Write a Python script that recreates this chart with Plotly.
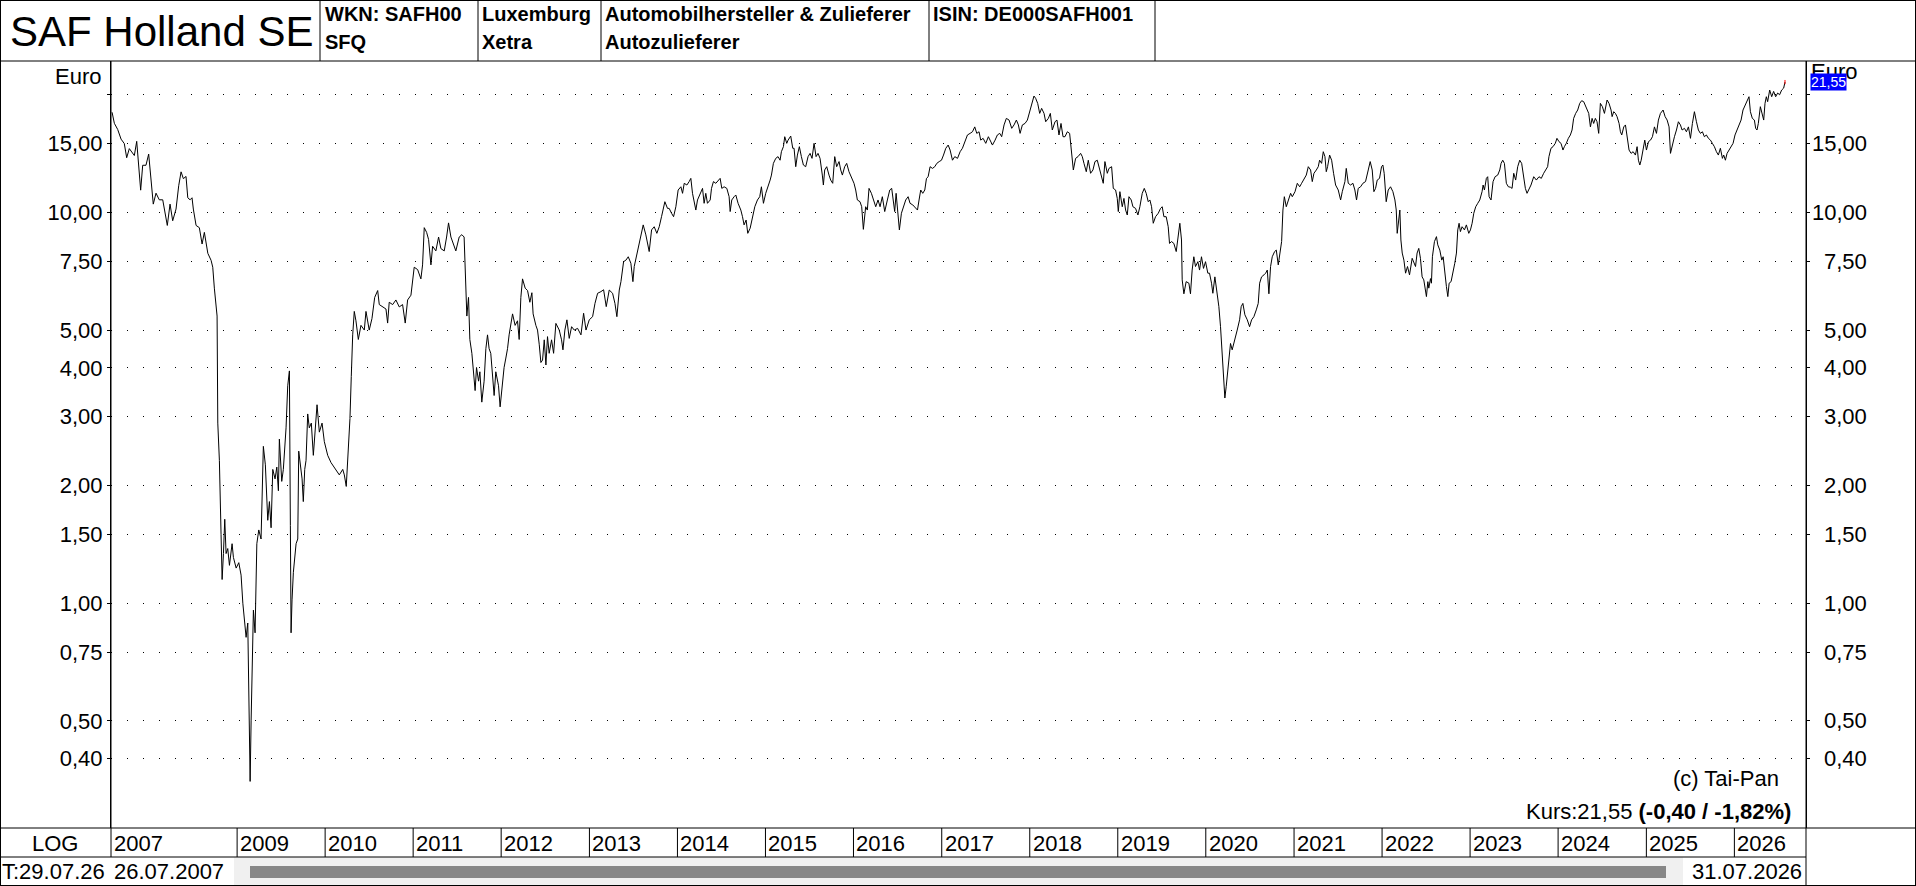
import math
from datetime import datetime
import plotly.graph_objects as go

# price path, time as decimal years
t_0712 = [2007.582, 2007.608, 2007.646, 2007.684, 2007.721, 2007.748, 2007.778, 2007.835, 2007.862, 2007.885,
          2007.907, 2007.930, 2007.967, 2007.998, 2008.024, 2008.050, 2008.081, 2008.118, 2008.157, 2008.186,
          2008.209, 2008.240, 2008.270, 2008.308, 2008.338, 2008.365, 2008.391, 2008.421, 2008.441, 2008.467,
          2008.489, 2008.504, 2008.535, 2008.572, 2008.603, 2008.629, 2008.668, 2008.705, 2008.724, 2008.742,
          2008.762, 2008.773, 2008.781, 2008.799, 2008.818, 2008.830, 2008.845, 2008.860, 2008.875, 2008.894,
          2008.913, 2008.943, 2008.958, 2008.989, 2009.019, 2009.045, 2009.065, 2009.083, 2009.102, 2009.121,
          2009.133, 2009.148, 2009.159, 2009.170, 2009.185, 2009.204, 2009.224, 2009.246, 2009.272, 2009.284,
          2009.298, 2009.321, 2009.348, 2009.367, 2009.386, 2009.405, 2009.431, 2009.451, 2009.469, 2009.480,
          2009.507, 2009.525, 2009.556, 2009.575, 2009.594, 2009.605, 2009.613, 2009.624, 2009.639, 2009.670,
          2009.689, 2009.700, 2009.715, 2009.738, 2009.752, 2009.768, 2009.783, 2009.802, 2009.820, 2009.843,
          2009.866, 2009.889, 2009.908, 2009.934, 2009.965, 2009.991, 2010.029, 2010.067, 2010.116, 2010.161,
          2010.200, 2010.218, 2010.240, 2010.260, 2010.282, 2010.297, 2010.313, 2010.331, 2010.350, 2010.377,
          2010.407, 2010.445, 2010.464, 2010.501, 2010.532, 2010.563, 2010.597, 2010.615, 2010.653, 2010.691,
          2010.710, 2010.728, 2010.767, 2010.804, 2010.842, 2010.880, 2010.910, 2010.937, 2010.975, 2010.994,
          2011.012, 2011.051, 2011.088, 2011.107, 2011.126, 2011.153, 2011.175, 2011.202, 2011.221, 2011.258,
          2011.289, 2011.315, 2011.353, 2011.380, 2011.402, 2011.429, 2011.448, 2011.485, 2011.523, 2011.553,
          2011.579, 2011.591, 2011.610, 2011.629, 2011.644, 2011.667, 2011.686, 2011.704, 2011.720, 2011.743,
          2011.758, 2011.780, 2011.806, 2011.826, 2011.845, 2011.863, 2011.882, 2011.902, 2011.920, 2011.939,
          2011.970, 2011.988, 2012.015, 2012.033, 2012.053, 2012.072, 2012.090, 2012.109, 2012.129, 2012.158,
          2012.185, 2012.204, 2012.223, 2012.242, 2012.272, 2012.299, 2012.325, 2012.348, 2012.362, 2012.393,
          2012.412, 2012.431, 2012.450]
p_0712 = [18.04, 16.9, 16.3, 15.4, 15.0, 13.8, 14.56, 13.98, 15.2, 12.7,
          11.4, 13.2, 13.2, 14.1, 12.36, 10.5, 11.2, 10.77, 10.77, 9.93,
          9.26, 10.5, 9.52, 10.2, 11.7, 12.7, 12.2, 12.36, 10.9, 10.77,
          10.9, 10.2, 9.26, 9.14, 8.30, 8.89, 7.86, 7.54, 7.24, 6.40,
          5.89, 5.43, 2.89, 2.32, 1.50, 1.15, 1.34, 1.64, 1.34, 1.38,
          1.25, 1.42, 1.31, 1.23, 1.27, 1.18, 1.00, 0.89, 0.818, 0.89,
          0.56, 0.35, 0.50, 0.71, 0.96, 0.84, 1.42, 1.54, 1.46, 1.87,
          2.52, 2.26, 1.63, 1.82, 1.56, 2.20, 2.08, 2.23, 1.94, 2.63,
          2.05, 2.20, 2.81, 3.60, 3.93, 1.58, 0.84, 1.02, 1.20, 1.42,
          1.46, 2.45, 2.26, 2.08, 1.82, 2.20, 2.32, 3.05, 2.81, 2.89,
          2.39, 2.89, 3.22, 2.74, 2.89, 2.59, 2.39, 2.29, 2.20, 2.13,
          2.20, 2.13, 1.99, 2.45, 2.97, 3.80, 4.86, 5.58, 5.28, 4.73,
          5.14, 5.00, 5.58, 5.00, 5.35, 6.06, 6.31, 5.81, 5.73, 5.66,
          5.21, 5.89, 5.81, 5.97, 5.73, 5.81, 5.21, 5.97, 6.14, 6.58,
          7.24, 7.14, 6.76, 7.34, 9.14, 8.89, 8.53, 7.34, 8.19, 7.97,
          8.65, 8.08, 7.97, 8.65, 9.40, 8.65, 8.41, 7.97, 8.65, 8.77,
          8.65, 6.76, 5.43, 6.06, 4.73, 4.36, 3.91, 3.50, 4.01, 3.70,
          3.91, 3.27, 3.70, 4.48, 4.86, 4.48, 4.36, 3.80, 3.40, 3.91,
          3.60, 3.18, 3.70, 4.01, 4.24, 4.48, 4.86, 5.14, 5.50, 5.14,
          5.28, 4.73, 6.06, 6.76, 6.40, 6.31, 5.89, 6.23, 5.50, 5.14,
          5.00, 4.60, 4.13]

t_1217 = [2012.469, 2012.488, 2012.507, 2012.525, 2012.544, 2012.571, 2012.594, 2012.620, 2012.658, 2012.684,
          2012.700, 2012.722, 2012.745, 2012.771, 2012.798, 2012.828, 2012.866, 2012.904, 2012.934, 2012.961,
          2012.998, 2013.036, 2013.063, 2013.093, 2013.131, 2013.161, 2013.191, 2013.225, 2013.263, 2013.290,
          2013.312, 2013.339, 2013.358, 2013.388, 2013.415, 2013.441, 2013.471, 2013.494, 2013.509, 2013.547,
          2013.577, 2013.611, 2013.641, 2013.660, 2013.679, 2013.706, 2013.736, 2013.766, 2013.793, 2013.819,
          2013.857, 2013.887, 2013.906, 2013.933, 2013.956, 2013.982, 2014.008, 2014.039, 2014.058, 2014.077,
          2014.107, 2014.133, 2014.152, 2014.171, 2014.190, 2014.209, 2014.228, 2014.258, 2014.285, 2014.303,
          2014.322, 2014.341, 2014.372, 2014.387, 2014.409, 2014.436, 2014.462, 2014.485, 2014.504, 2014.530,
          2014.561, 2014.587, 2014.599, 2014.617, 2014.644, 2014.663, 2014.689, 2014.720, 2014.739, 2014.757,
          2014.780, 2014.799, 2014.826, 2014.852, 2014.879, 2014.909, 2014.935, 2014.954, 2014.977, 2015.003,
          2015.030, 2015.053, 2015.068, 2015.090, 2015.117, 2015.143, 2015.166, 2015.181, 2015.204, 2015.219,
          2015.242, 2015.257, 2015.287, 2015.310, 2015.325, 2015.344, 2015.363, 2015.385, 2015.408, 2015.431,
          2015.457, 2015.484, 2015.507, 2015.529, 2015.552, 2015.575, 2015.597, 2015.620, 2015.646, 2015.658,
          2015.673, 2015.696, 2015.722, 2015.741, 2015.764, 2015.787, 2015.809, 2015.836, 2015.855, 2015.874,
          2015.900, 2015.923, 2015.949, 2015.976, 2016.006, 2016.025, 2016.044, 2016.074, 2016.093, 2016.112,
          2016.138, 2016.157, 2016.176, 2016.203, 2016.225, 2016.252, 2016.278, 2016.301, 2016.327, 2016.354,
          2016.384, 2016.411, 2016.433, 2016.452, 2016.467, 2016.483, 2016.505, 2016.520, 2016.543, 2016.566,
          2016.592, 2016.619, 2016.641, 2016.672, 2016.694, 2016.725, 2016.743, 2016.762, 2016.785, 2016.808,
          2016.827, 2016.846, 2016.868, 2016.895, 2016.921, 2016.944, 2016.971, 2016.997, 2017.020, 2017.046,
          2017.073, 2017.095, 2017.122, 2017.148, 2017.179, 2017.209, 2017.235, 2017.262, 2017.292, 2017.322,
          2017.349, 2017.375, 2017.398, 2017.424]
p_1217 = [4.19, 4.72, 4.07, 4.81, 4.36, 4.72, 4.36, 5.20, 5.00, 4.72,
          4.45, 5.00, 5.31, 4.76, 5.10, 5.00, 5.05, 4.86, 5.52, 5.00,
          5.31, 5.41, 5.85, 6.21, 6.27, 6.34, 5.74, 6.33, 6.21, 5.85,
          5.41, 6.33, 6.65, 7.48, 7.55, 7.70, 7.41, 6.65, 7.27, 8.01,
          8.50, 9.29, 8.76, 8.33, 7.94, 9.02, 9.19, 8.84, 9.19, 9.75,
          10.65, 10.24, 10.24, 9.95, 9.75, 10.34, 11.41, 11.63, 11.19, 11.87,
          11.75, 11.99, 12.22, 11.19, 10.55, 10.14, 10.76, 11.19, 11.52, 10.55,
          11.19, 10.55, 10.76, 11.52, 11.99, 11.87, 12.10, 12.22, 11.52, 11.63,
          11.52, 10.97, 10.05, 10.76, 10.97, 11.08, 10.55, 10.14, 9.75, 9.29,
          9.56, 8.84, 9.11, 9.75, 10.34, 10.76, 10.97, 11.63, 10.55, 11.19,
          11.63, 12.10, 12.46, 13.35, 13.75, 13.89, 13.6, 14.30, 14.73, 15.62,
          15.02, 15.31, 15.68, 14.59, 14.59, 13.09, 14.02, 14.73, 13.89, 13.22,
          13.09, 13.89, 14.16, 13.75, 15.02, 13.89, 14.16, 13.75, 12.46, 11.75,
          12.84, 13.09, 12.46, 12.10, 11.87, 13.89, 13.09, 13.49, 12.84, 12.46,
          13.09, 13.35, 12.71, 12.34, 11.87, 11.41, 10.76, 10.65, 10.34, 9.05,
          10.34, 10.14, 11.52, 11.19, 10.76, 10.34, 10.76, 10.34, 10.97, 10.05,
          10.76, 11.41, 11.52, 10.76, 10.05, 11.19, 9.75, 9.02, 9.95, 10.34,
          10.76, 10.97, 10.55, 10.45, 10.34, 10.14, 10.76, 11.41, 11.19, 11.41,
          12.22, 12.34, 13.09, 12.96, 13.09, 13.35, 13.49, 13.6, 14.02, 14.59,
          14.87, 14.44, 13.6, 13.89, 13.75, 14.30, 14.59, 15.17, 15.78, 15.93,
          16.08, 16.55, 15.93, 16.08]

t_1722 = [2017.443, 2017.470, 2017.500, 2017.530, 2017.557, 2017.576, 2017.606, 2017.632, 2017.659, 2017.681,
          2017.708, 2017.734, 2017.765, 2017.795, 2017.821, 2017.848, 2017.871, 2017.890, 2017.916, 2017.946,
          2017.973, 2017.999, 2018.022, 2018.048, 2018.067, 2018.090, 2018.113, 2018.135, 2018.162, 2018.181,
          2018.211, 2018.234, 2018.256, 2018.287, 2018.309, 2018.332, 2018.355, 2018.378, 2018.400, 2018.427,
          2018.453, 2018.476, 2018.495, 2018.521, 2018.548, 2018.578, 2018.597, 2018.616, 2018.642, 2018.665,
          2018.691, 2018.718, 2018.741, 2018.767, 2018.794, 2018.816, 2018.835, 2018.854, 2018.881, 2018.900,
          2018.930, 2018.949, 2018.975, 2018.994, 2019.006, 2019.024, 2019.051, 2019.070, 2019.089, 2019.108,
          2019.127, 2019.153, 2019.172, 2019.202, 2019.229, 2019.251, 2019.278, 2019.301, 2019.323, 2019.346,
          2019.365, 2019.384, 2019.403, 2019.429, 2019.460, 2019.486, 2019.505, 2019.524, 2019.550, 2019.573,
          2019.588, 2019.611, 2019.637, 2019.664, 2019.686, 2019.705, 2019.724, 2019.732, 2019.751, 2019.777,
          2019.808, 2019.826, 2019.845, 2019.864, 2019.883, 2019.910, 2019.929, 2019.951, 2019.974, 2019.997,
          2020.023, 2020.042, 2020.065, 2020.080, 2020.103, 2020.129, 2020.148, 2020.167, 2020.186, 2020.197,
          2020.216, 2020.231, 2020.246, 2020.261, 2020.280, 2020.299, 2020.330, 2020.356, 2020.383, 2020.401,
          2020.420, 2020.443, 2020.470, 2020.496, 2020.519, 2020.545, 2020.572, 2020.594, 2020.610, 2020.632,
          2020.659, 2020.678, 2020.697, 2020.715, 2020.734, 2020.753, 2020.780, 2020.799, 2020.821, 2020.840,
          2020.859, 2020.874, 2020.890, 2020.912, 2020.935, 2020.961, 2020.980, 2021.011, 2021.037, 2021.064,
          2021.086, 2021.113, 2021.139, 2021.162, 2021.188, 2021.207, 2021.226, 2021.253, 2021.275, 2021.290,
          2021.313, 2021.332, 2021.351, 2021.366, 2021.381, 2021.404, 2021.427, 2021.449, 2021.472, 2021.502,
          2021.529, 2021.548, 2021.578, 2021.593, 2021.616, 2021.642, 2021.669, 2021.691, 2021.710, 2021.729,
          2021.756, 2021.782, 2021.812, 2021.843, 2021.865, 2021.888, 2021.907, 2021.926, 2021.945, 2021.971,
          2021.994, 2022.009, 2022.024, 2022.047, 2022.070, 2022.096, 2022.123, 2022.146, 2022.161, 2022.172,
          2022.191, 2022.202, 2022.214, 2022.229, 2022.248, 2022.267, 2022.289, 2022.312]
p_1722 = [15.31, 15.47, 15.02, 15.62, 15.17, 14.87, 15.31, 15.78, 15.93, 15.62,
          16.74, 17.40, 17.23, 16.41, 16.74, 17.23, 16.74, 15.93, 16.74, 16.89,
          17.23, 18.10, 19.01, 19.85, 19.58, 19.01, 17.92, 18.46, 17.92, 17.06,
          17.40, 17.92, 16.25, 17.06, 17.23, 15.78, 16.89, 15.62, 15.62, 16.08,
          15.93, 14.44, 12.84, 13.75, 13.89, 14.16, 13.89, 13.35, 12.71, 13.6,
          12.59, 12.84, 13.49, 13.6, 12.84, 12.46, 11.87, 13.49, 12.59, 12.96,
          13.09, 11.52, 11.41, 10.86, 10.05, 11.30, 10.34, 10.86, 10.14, 9.85,
          10.97, 10.76, 10.34, 10.24, 9.85, 10.34, 11.19, 11.52, 11.19, 10.65,
          10.76, 10.34, 9.38, 9.75, 9.95, 10.24, 10.34, 9.75, 9.75, 9.19,
          8.33, 8.42, 8.33, 7.94, 8.67, 9.38, 8.50, 6.72, 6.19, 6.65,
          6.59, 6.19, 7.12, 7.70, 7.27, 7.48, 7.12, 7.70, 7.19, 7.48,
          6.99, 6.99, 6.59, 6.21, 6.84, 6.19, 5.74, 5.10, 4.19, 3.80,
          3.35, 3.58, 3.88, 4.36, 4.62, 4.45, 4.72, 5.00, 5.31, 5.74,
          5.85, 5.47, 5.31, 5.10, 5.31, 5.41, 5.63, 5.85, 6.59, 6.84,
          6.92, 6.99, 7.12, 6.19, 7.27, 7.70, 7.94, 8.01, 7.34, 7.94,
          8.42, 10.14, 10.97, 10.34, 10.76, 11.19, 10.97, 11.30, 11.87, 11.63,
          11.87, 12.22, 12.46, 13.09, 12.84, 11.99, 12.59, 12.84, 13.09, 13.6,
          13.35, 14.30, 13.89, 12.71, 13.09, 14.02, 13.6, 12.59, 11.75, 11.41,
          10.76, 11.30, 11.99, 12.96, 11.87, 11.75, 11.87, 11.41, 10.76, 11.52,
          11.63, 11.87, 11.99, 12.84, 13.49, 12.84, 11.30, 11.52, 12.10, 12.22,
          13.09, 13.22, 12.59, 10.65, 11.41, 11.63, 11.30, 10.76, 10.14, 8.84,
          9.95, 10.14, 8.50, 7.87, 7.55, 6.99, 7.27, 6.92]

t_2226 = [2022.342, 2022.361, 2022.380, 2022.398, 2022.417, 2022.436, 2022.455, 2022.474, 2022.493, 2022.504,
          2022.520, 2022.531, 2022.550, 2022.561, 2022.572, 2022.595, 2022.618, 2022.633, 2022.656, 2022.678,
          2022.694, 2022.709, 2022.731, 2022.747, 2022.762, 2022.784, 2022.807, 2022.826, 2022.845, 2022.860,
          2022.875, 2022.890, 2022.909, 2022.936, 2022.958, 2022.985, 2023.004, 2023.023, 2023.042, 2023.064,
          2023.087, 2023.110, 2023.136, 2023.148, 2023.163, 2023.185, 2023.200, 2023.216, 2023.238, 2023.261,
          2023.284, 2023.314, 2023.337, 2023.352, 2023.371, 2023.390, 2023.412, 2023.435, 2023.458, 2023.477,
          2023.496, 2023.518, 2023.541, 2023.564, 2023.586, 2023.609, 2023.628, 2023.647, 2023.666, 2023.692,
          2023.723, 2023.753, 2023.783, 2023.809, 2023.836, 2023.859, 2023.881, 2023.896, 2023.919, 2023.942,
          2023.968, 2023.987, 2024.010, 2024.033, 2024.055, 2024.071, 2024.093, 2024.116, 2024.139, 2024.158,
          2024.176, 2024.199, 2024.222, 2024.245, 2024.267, 2024.290, 2024.309, 2024.328, 2024.347, 2024.366,
          2024.385, 2024.403, 2024.422, 2024.441, 2024.460, 2024.479, 2024.502, 2024.525, 2024.540, 2024.555,
          2024.577, 2024.600, 2024.612, 2024.630, 2024.649, 2024.668, 2024.691, 2024.706, 2024.721, 2024.744,
          2024.763, 2024.782, 2024.804, 2024.827, 2024.850, 2024.876, 2024.895, 2024.910, 2024.926, 2024.941,
          2024.963, 2024.982, 2025.001, 2025.024, 2025.047, 2025.069, 2025.092, 2025.115, 2025.137, 2025.160,
          2025.190, 2025.213, 2025.236, 2025.258, 2025.274, 2025.296, 2025.319, 2025.342, 2025.364, 2025.387,
          2025.406, 2025.433, 2025.455, 2025.478, 2025.501, 2025.523, 2025.546, 2025.569, 2025.591, 2025.614,
          2025.637, 2025.659, 2025.682, 2025.705, 2025.728, 2025.750, 2025.773, 2025.796, 2025.818, 2025.841,
          2025.864, 2025.879, 2025.898, 2025.917, 2025.939, 2025.962, 2025.985, 2026.007, 2026.030, 2026.053,
          2026.076, 2026.098, 2026.121, 2026.144, 2026.166, 2026.182, 2026.204, 2026.227, 2026.242, 2026.257,
          2026.272, 2026.295, 2026.314, 2026.333, 2026.348, 2026.363, 2026.378, 2026.401, 2026.424, 2026.446,
          2026.469, 2026.492, 2026.514, 2026.537, 2026.560, 2026.571, 2026.575]
p_2226 = [7.63, 7.41, 7.27, 7.87, 8.09, 7.63, 6.84, 6.72, 6.21, 6.09,
          6.65, 6.40, 6.77, 6.59, 7.70, 8.42, 8.67, 8.26, 8.01, 7.55,
          7.70, 7.05, 6.46, 6.09, 6.59, 6.65, 6.99, 7.41, 7.87, 9.02,
          9.38, 8.93, 9.19, 9.02, 9.29, 8.84, 9.02, 9.38, 9.95, 10.34,
          10.55, 10.76, 11.30, 11.75, 11.41, 12.22, 12.34, 10.97, 10.76, 11.99,
          12.34, 12.46, 12.84, 13.35, 13.6, 13.35, 11.87, 11.63, 11.6, 11.52,
          12.59, 12.10, 13.09, 13.6, 13.35, 12.34, 11.52, 11.19, 11.41, 11.75,
          12.34, 12.10, 12.34, 12.22, 12.59, 12.84, 13.09, 13.89, 14.59, 14.73,
          15.02, 15.47, 15.17, 15.02, 14.44, 14.73, 15.02, 15.47, 15.78, 16.25,
          17.40, 17.92, 18.28, 19.01, 19.31, 19.2, 18.82, 18.46, 17.92, 16.55,
          17.40, 16.89, 17.40, 17.06, 15.93, 19.01, 18.64, 17.92, 18.82, 19.39,
          19.01, 18.28, 17.58, 18.10, 17.92, 17.58, 16.89, 16.08, 15.78, 16.55,
          16.74, 15.47, 14.44, 14.16, 14.30, 14.02, 14.73, 13.6, 13.22, 13.6,
          14.59, 15.31, 14.44, 15.17, 15.31, 15.62, 16.55, 15.93, 17.23, 17.92,
          18.28, 17.58, 17.23, 16.55, 14.16, 15.02, 15.62, 16.25, 17.06, 16.74,
          16.25, 16.41, 16.08, 16.55, 15.47, 16.89, 18.10, 17.06, 16.25, 15.93,
          16.08, 15.62, 15.78, 15.47, 15.31, 15.02, 14.73, 14.30, 14.02, 14.59,
          13.75, 14.02, 13.6, 14.16, 14.44, 14.73, 15.02, 15.78, 16.25, 16.89,
          17.23, 18.28, 18.82, 19.39, 19.77, 18.10, 17.40, 17.23, 16.41, 16.25,
          16.89, 18.64, 17.92, 17.23, 19.01, 19.77, 19.2, 20.56, 19.77, 20.4,
          19.77, 20.2, 20.0, 20.56, 20.8, 21.38, 21.55]

grid_vals = [0.4, 0.5, 0.75, 1, 1.5, 2, 3, 4, 5, 7.5, 10, 15, 20]
grid_text = ["0,40", "0,50", "0,75", "1,00", "1,50", "2,00", "3,00", "4,00", "5,00", "7,50", "10,00", "15,00", ""]
years = list(range(2009, 2027))
last_price = "21,55"

W, H = 1916, 886
FONT = "Liberation Sans, Arial, sans-serif"


def to_date(t):
    y = int(t)
    d0, d1 = datetime(y, 1, 1), datetime(y + 1, 1, 1)
    return d0 + (d1 - d0) * (t - y)


def px(x):
    return x / W


def py(y):
    return 1 - y / H


t_all = t_0712 + t_1217 + t_1722 + t_2226
p_all = p_0712 + p_1217 + p_1722 + p_2226
dates = [to_date(t) for t in t_all]

fig = go.Figure()
fig.add_trace(go.Scatter(x=dates, y=p_all, mode="lines",
                         line=dict(color="black", width=1), hoverinfo="skip"))
# red mark on the last quote, also carries the right axis
fig.add_trace(go.Scatter(x=[dates[-1]], y=[p_all[-1]], yaxis="y2", mode="markers",
                         marker=dict(symbol="line-ns", size=3, line=dict(color="red", width=1)),
                         hoverinfo="skip"))

yr = [math.log10(0.266), math.log10(24.4)]
ydom = [py(828), py(61)]
fig.update_layout(
    width=W, height=H,
    margin=dict(l=0, r=0, t=0, b=0),
    paper_bgcolor="white", plot_bgcolor="white",
    showlegend=False,
    font=dict(family=FONT, color="black", size=22),
    xaxis=dict(type="date", domain=[px(111), px(1806)], range=["2007-07-28", "2026-10-25"],
               showgrid=False, showticklabels=False, zeroline=False, showline=False, ticks=""),
    yaxis=dict(type="log", domain=ydom, range=yr, tickvals=grid_vals, ticktext=grid_text,
               ticks="outside", ticklen=3, tickcolor="black", showline=True, linecolor="black",
               showgrid=True, gridcolor="black", gridwidth=1, griddash="1px,15px",
               zeroline=False, tickfont=dict(size=22, family=FONT)),
    yaxis2=dict(type="log", domain=ydom, range=yr, overlaying="y", side="right",
                tickvals=grid_vals, showticklabels=False, ticks="outside", ticklen=3,
                tickcolor="black", showline=True, linecolor="black", showgrid=False, zeroline=False),
)

shapes = []


def hline(y, x0, x1):
    shapes.append(dict(type="line", xref="paper", yref="paper", x0=px(x0), x1=px(x1), y0=py(y), y1=py(y),
                       line=dict(color="black", width=1)))


def vline(x, y0, y1):
    shapes.append(dict(type="line", xref="paper", yref="paper", x0=px(x), x1=px(x), y0=py(y0), y1=py(y1),
                       line=dict(color="black", width=1)))


# scrollbar
shapes.append(dict(type="rect", xref="paper", yref="paper", x0=px(234), x1=px(1683), y0=py(885), y1=py(857),
                   fillcolor="#f0f0f0", line=dict(width=0), layer="below"))
shapes.append(dict(type="rect", xref="paper", yref="paper", x0=px(250), x1=px(1666), y0=py(878), y1=py(866),
                   fillcolor="#878787", line=dict(width=0)))

# frame
hline(0.5, 0, W)
hline(885.5, 0, W)
vline(0.5, 0, H)
vline(1915.5, 0, H)
hline(61, 0, W)
hline(828, 0, W)
hline(857, 0, 1806)
for x in [320, 478, 601, 929, 1155]:
    vline(x, 0, 61)
vline(111, 61, 857)
vline(1806, 61, H)

# year separators in the date row
for y in years:
    shapes.append(dict(type="line", xref="x", yref="paper", x0=f"{y}-01-01", x1=f"{y}-01-01",
                       y0=py(828), y1=py(857), line=dict(color="black", width=1)))

ann = []


def text(x, y, s, size=22, anchor="left", bold=False, xref="paper", yref="paper", **kw):
    ann.append(dict(x=x, y=y, xref=xref, yref=yref, text=f"<b>{s}</b>" if bold else s, showarrow=False,
                    xanchor=anchor, yanchor="middle", font=dict(family=FONT, size=size, color="black"),
                    **kw))


# header
text(px(8), py(31), "SAF Holland SE", size=42)
text(px(323), py(14), "WKN: SAFH00", size=20, bold=True)
text(px(323), py(42), "SFQ", size=20, bold=True)
text(px(480), py(14), "Luxemburg", size=20, bold=True)
text(px(480), py(42), "Xetra", size=20, bold=True)
text(px(603), py(14), "Automobilhersteller &amp; Zulieferer", size=20, bold=True)
text(px(603), py(42), "Autozulieferer", size=20, bold=True)
text(px(931), py(14), "ISIN: DE000SAFH001", size=20, bold=True)

# axis captions
text(px(103), py(76), "Euro", anchor="right")
text(px(1809), py(71), "Euro", anchor="left")
for v, s in zip(grid_vals, grid_text):
    if s:
        text(px(1869), math.log10(v), s, anchor="right", yref="y")
ann.append(dict(x=px(1810), y=math.log10(p_all[-1]), xref="paper", yref="y", text=last_price,
                showarrow=False, xanchor="left", yanchor="middle", bgcolor="#0000ff", borderpad=0,
                font=dict(family=FONT, size=14, color="white")))

text(px(1781), py(778), "(c) Tai-Pan", anchor="right")
text(px(1793), py(811), "Kurs:21,55 <b>(-0,40 / -1,82%)</b>", anchor="right")

# date row
text(px(55), py(843), "LOG", anchor="center")
text("2007-07-28", py(843), "2007", xref="x", xshift=1)
for y in years:
    text(f"{y}-01-01", py(843), str(y), xref="x", xshift=1)

# scroll row
text(px(0), py(871), "T:29.07.26")
text(px(112), py(871), "26.07.2007")
text(px(1804), py(871), "31.07.2026", anchor="right")

fig.update_layout(shapes=shapes, annotations=ann)
fig.write_html("out.html", config={"displayModeBar": False},
               post_script="document.body.style.margin='0';")
